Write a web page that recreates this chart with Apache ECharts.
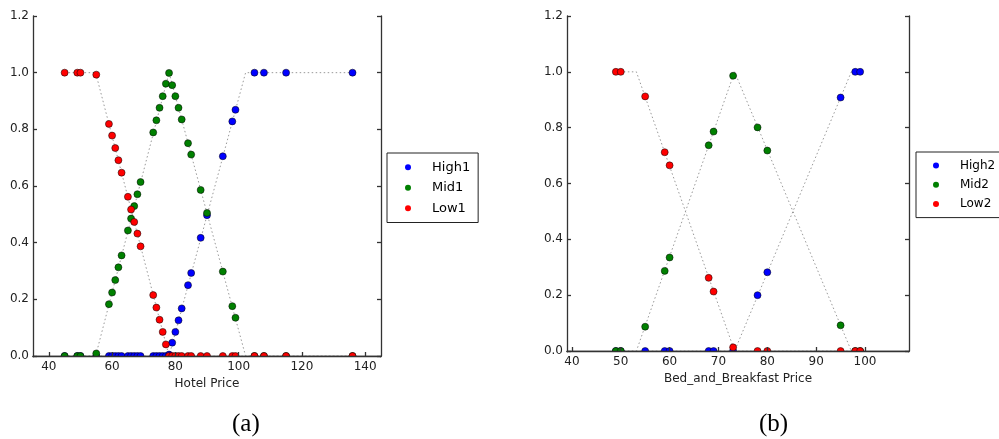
<!DOCTYPE html>
<html>
<head>
<meta charset="utf-8">
<title>Membership</title>
<script src="https://cdn.jsdelivr.net/npm/echarts@6/dist/echarts.min.js"></script>
<style>
  html, body { margin: 0; padding: 0; background: #fff; }
  #chart { width: 999px; height: 439px; }
</style>
</head>
<body>
<div id="chart"></div>
<script>
// (a) hotel prices
var hotelPrice = [45, 49, 50, 55, 59, 60, 61, 62, 63, 65, 66, 67, 68, 69, 73, 74, 75, 76, 77, 78,
                  79, 80, 81, 82, 84, 85, 88, 90, 95, 98, 99, 105, 108, 115, 136];
var high1 = [0, 0, 0, 0, 0, 0, 0, 0, 0, 0, 0, 0, 0, 0, 0, 0, 0, 0, 0, 0.005,
             0.047, 0.085, 0.126, 0.168, 0.25, 0.293, 0.417, 0.497, 0.705, 0.828, 0.869, 1, 1, 1, 1];
var mid1 = [0, 0, 0, 0.009, 0.183, 0.224, 0.268, 0.313, 0.355, 0.443, 0.485, 0.529, 0.571, 0.614,
            0.789, 0.832, 0.876, 0.917, 0.961, 0.999,
            0.956, 0.917, 0.876, 0.835, 0.751, 0.711, 0.586, 0.505, 0.298, 0.176, 0.135, 0, 0, 0, 0];
var low1 = [1, 1, 1, 0.993, 0.819, 0.778, 0.734, 0.691, 0.647, 0.562, 0.517, 0.473, 0.432, 0.387,
            0.215, 0.171, 0.128, 0.085, 0.041, 0,
            0, 0, 0, 0, 0, 0, 0, 0, 0, 0, 0, 0, 0, 0, 0];
// dotted membership curves (breakpoints)
var high1Curve = [[45, 0], [78, 0], [102.2, 1], [136, 1]];
var mid1Curve = [[45, 0], [54.8, 0], [78, 1], [102.2, 0], [136, 0]];
var low1Curve = [[45, 1], [54.8, 1], [78, 0], [136, 0]];

// (b) bed and breakfast prices
var bnbPrice = [49, 50, 55, 59, 60, 68, 69, 73, 78, 80, 95, 98, 99];
var high2 = [0, 0, 0, 0, 0, 0, 0, 0, 0.2, 0.282, 0.908, 1, 1];
var mid2 = [0, 0, 0.087, 0.287, 0.335, 0.737, 0.786, 0.986, 0.801, 0.718, 0.092, 0, 0];
var low2 = [1, 1, 0.912, 0.712, 0.665, 0.262, 0.213, 0.013, 0, 0, 0, 0, 0];
var high2Curve = [[49, 0], [73.3, 0], [97.2, 1], [99, 1]];
var mid2Curve = [[49, 0], [53.2, 0], [73.3, 1], [97.2, 0], [99, 0]];
var low2Curve = [[49, 1], [53.2, 1], [73.3, 0], [99, 0]];

var ticksA = [40, 60, 80, 100, 120, 140];
var ticksB = [40, 50, 60, 70, 80, 90, 100];

var FONT = 'DejaVu Sans';
var colors = {high: '#0000ff', mid: '#008000', low: '#ff0000'};

function zip(xs, ys) {
    var out = [];
    for (var i = 0; i < xs.length; i++) out.push([xs[i], ys[i]]);
    return out;
}

function xAxisPair(grid, min, max, ticks, name) {
    var frame = {color: '#333', width: 1.3};
    return [{
        type: 'value', gridIndex: grid, min: min, max: max, position: 'bottom', z: 10,
        name: name, nameLocation: 'middle', nameGap: 20,
        nameTextStyle: {fontFamily: FONT, fontSize: 12, color: '#222'},
        axisLine: {show: true, lineStyle: frame},
        axisTick: {show: true, inside: true, length: 4, customValues: ticks, lineStyle: frame},
        axisLabel: {show: true, margin: 5, customValues: ticks, fontFamily: FONT, fontSize: 12, color: '#222'},
        splitLine: {show: false}
    }, {
        type: 'value', gridIndex: grid, min: min, max: max, position: 'top',
        axisLine: {show: true, lineStyle: frame},
        axisTick: {show: true, inside: true, length: 4, customValues: ticks, lineStyle: frame},
        axisLabel: {show: false},
        splitLine: {show: false}
    }];
}

function yAxisPair(grid) {
    var frame = {color: '#333', width: 1.3};
    return [{
        type: 'value', gridIndex: grid, min: 0, max: 1.2, interval: 0.2, position: 'left', z: 10,
        axisLine: {show: true, lineStyle: frame},
        axisTick: {show: true, inside: true, length: 4, lineStyle: frame},
        axisLabel: {margin: 4, fontFamily: FONT, fontSize: 12, color: '#222',
            formatter: function (v) { return v.toFixed(1); }},
        splitLine: {show: false}
    }, {
        type: 'value', gridIndex: grid, min: 0, max: 1.2, interval: 0.2, position: 'right', z: 10,
        axisLine: {show: true, lineStyle: frame},
        axisTick: {show: true, inside: true, length: 4, lineStyle: frame},
        axisLabel: {show: false},
        splitLine: {show: false}
    }];
}

function dots(name, data, color, xi, yi) {
    return {
        name: name, type: 'scatter', xAxisIndex: xi, yAxisIndex: yi,
        data: data, symbolSize: 7, clip: true, z: 3,
        itemStyle: {color: color, borderColor: '#000', borderWidth: 0.5, opacity: 1}
    };
}

function curve(name, data, xi, yi) {
    return {
        name: name, type: 'line', xAxisIndex: xi, yAxisIndex: yi,
        data: data, showSymbol: false, symbol: 'none', clip: true, silent: true, z: 2,
        lineStyle: {color: '#999', width: 1, type: [1.5, 2.5]}
    };
}

function legendBox(names, left, top, fontSize, rowH, padLeft) {
    return {
        data: names, orient: 'vertical', left: left, top: top,
        padding: [4, 8, 4, padLeft], itemWidth: 38, itemHeight: 6, itemGap: 0,
        icon: 'circle', selectedMode: false,
        borderColor: '#222', borderWidth: 1, borderRadius: 0,
        itemStyle: {borderWidth: 0},
        textStyle: {fontFamily: FONT, fontSize: fontSize, lineHeight: rowH, color: '#000'}
    };
}

// white strip under each plot: hides the lower half of the dots sitting on y = 0
function mask(left, top, width) {
    return {type: 'rect', left: left, top: top, z: 5, silent: true,
        shape: {width: width, height: 4.5}, style: {fill: '#fff'}};
}

var chart = echarts.init(document.getElementById('chart'), null, {renderer: 'canvas'});

var option = {
    backgroundColor: '#fff',
    animation: false,
    grid: [
        {left: 33, top: 16, width: 348, height: 340},
        {left: 567, top: 16, width: 342, height: 335}
    ],
    xAxis: xAxisPair(0, 35, 145, ticksA, 'Hotel Price')
        .concat(xAxisPair(1, 39, 109, ticksB, 'Bed_and_Breakfast Price')),
    yAxis: yAxisPair(0).concat(yAxisPair(1)),
    legend: [
        legendBox(['High1', 'Mid1', 'Low1'], 387, 153, 13, 20.5, 18),
        legendBox(['High2', 'Mid2', 'Low2'], 916, 152, 12, 19.2, 17)
    ],
    series: [
        curve('high1Curve', high1Curve, 0, 0),
        curve('mid1Curve', mid1Curve, 0, 0),
        curve('low1Curve', low1Curve, 0, 0),
        dots('High1', zip(hotelPrice, high1), colors.high, 0, 0),
        dots('Mid1', zip(hotelPrice, mid1), colors.mid, 0, 0),
        dots('Low1', zip(hotelPrice, low1), colors.low, 0, 0),
        curve('high2Curve', high2Curve, 2, 2),
        curve('mid2Curve', mid2Curve, 2, 2),
        curve('low2Curve', low2Curve, 2, 2),
        dots('High2', zip(bnbPrice, high2), colors.high, 2, 2),
        dots('Mid2', zip(bnbPrice, mid2), colors.mid, 2, 2),
        dots('Low2', zip(bnbPrice, low2), colors.low, 2, 2)
    ],
    graphic: [
        mask(34, 356.6, 346),
        mask(568, 351.6, 340),
        {type: 'text', left: 232, top: 412,
            style: {text: '(a)', font: '25px "Liberation Serif"', fill: '#000'}},
        {type: 'text', left: 759, top: 412,
            style: {text: '(b)', font: '25px "Liberation Serif"', fill: '#000'}}
    ]
};

chart.setOption(option);
</script>
</body>
</html>
